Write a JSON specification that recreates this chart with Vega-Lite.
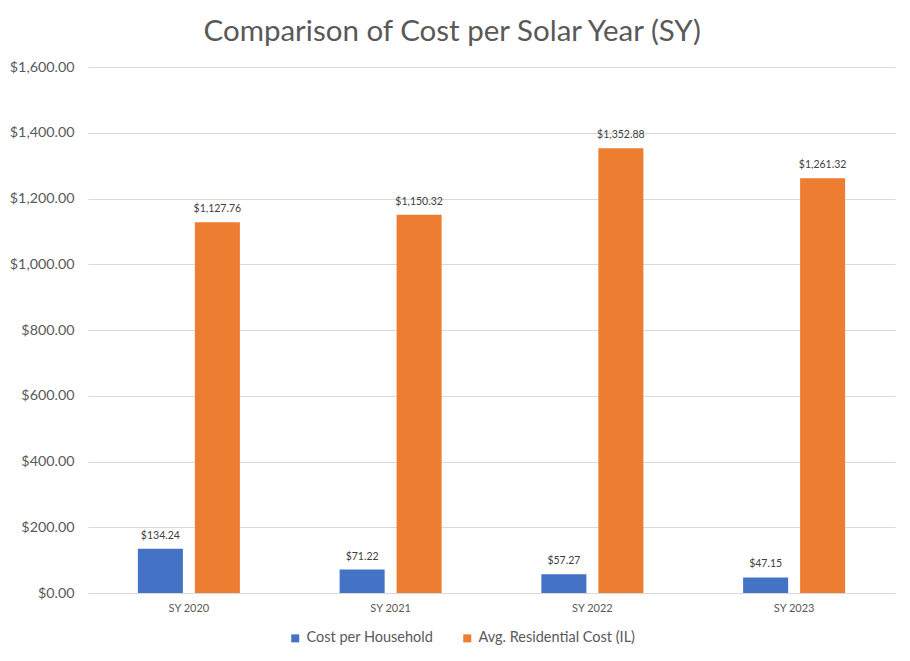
{
  "$schema": "https://vega.github.io/schema/vega-lite/v6.json",
  "description": "Comparison of cost per solar year, grouped bars",
  "autosize": {"type": "none"},
  "padding": {"left": 88, "top": 67, "right": 15, "bottom": 68},
  "width": 807,
  "height": 526,
  "background": "white",
  "title": {
    "text": "Comparison of Cost per Solar Year (SY)",
    "frame": "bounds",
    "anchor": "middle",
    "fontSize": 29.5,
    "font": "Lato",
    "fontWeight": "normal",
    "color": "#595959",
    "offset": 13
  },
  "data": {
    "values": [
      {"year": "SY 2020", "series": "Cost per Household", "cost": 134.24},
      {"year": "SY 2020", "series": "Avg. Residential Cost (IL)", "cost": 1127.76},
      {"year": "SY 2021", "series": "Cost per Household", "cost": 71.22},
      {"year": "SY 2021", "series": "Avg. Residential Cost (IL)", "cost": 1150.32},
      {"year": "SY 2022", "series": "Cost per Household", "cost": 57.27},
      {"year": "SY 2022", "series": "Avg. Residential Cost (IL)", "cost": 1352.88},
      {"year": "SY 2023", "series": "Cost per Household", "cost": 47.15},
      {"year": "SY 2023", "series": "Avg. Residential Cost (IL)", "cost": 1261.32}
    ]
  },
  "encoding": {
    "x": {
      "field": "year",
      "type": "nominal",
      "scale": {"paddingInner": 0, "paddingOuter": 0},
      "axis": {
        "title": null,
        "labelAngle": 0,
        "labelFontSize": 11,
        "labelFont": "Lato",
        "labelColor": "#595959",
        "labelPadding": 9,
        "ticks": false,
        "domainColor": "#D9D9D9",
        "grid": false
      }
    },
    "xOffset": {
      "field": "series",
      "type": "nominal",
      "sort": ["Cost per Household", "Avg. Residential Cost (IL)"],
      "scale": {"paddingInner": 0.21, "paddingOuter": 0.875}
    },
    "y": {
      "field": "cost",
      "type": "quantitative",
      "scale": {"domain": [0, 1600]},
      "axis": {
        "title": null,
        "values": [0, 200, 400, 600, 800, 1000, 1200, 1400, 1600],
        "format": "$,.2f",
        "labelFontSize": 14.3,
        "labelFont": "Lato",
        "labelColor": "#595959",
        "labelPadding": 14,
        "ticks": false,
        "domain": false,
        "gridColor": "#D9D9D9"
      }
    }
  },
  "layer": [
    {
      "mark": {"type": "bar"},
      "encoding": {
        "color": {
          "field": "series",
          "type": "nominal",
          "scale": {
            "domain": ["Cost per Household", "Avg. Residential Cost (IL)"],
            "range": ["#4472C4", "#ED7D31"]
          },
          "legend": {
            "title": null,
            "orient": "none",
            "legendX": 200,
            "legendY": 564,
            "direction": "horizontal",
            "symbolType": "square",
            "symbolSize": 64,
            "symbolStrokeWidth": 0,
            "labelFontSize": 14.5,
            "labelFont": "Lato",
            "labelColor": "#595959",
            "columnPadding": 26
          }
        }
      }
    },
    {
      "mark": {
        "type": "text",
        "baseline": "bottom",
        "dy": -8,
        "fontSize": 10.5,
        "font": "Lato",
        "color": "#404040"
      },
      "encoding": {
        "text": {"field": "cost", "type": "quantitative", "format": "$,.2f"}
      }
    }
  ],
  "config": {
    "view": {"stroke": null}
  }
}
